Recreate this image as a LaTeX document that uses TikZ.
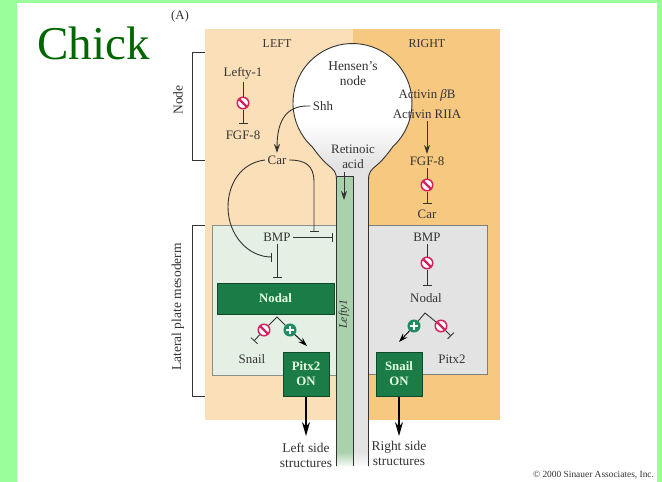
\documentclass[tikz,border=0pt]{standalone}
\usepackage{fontspec}
\setmainfont{Liberation Serif}
\definecolor{framegreen}{HTML}{99FF99}
\definecolor{chickgreen}{HTML}{006600}
\definecolor{leftor}{HTML}{FBDFB8}
\definecolor{rightor}{HTML}{F6C880}
\definecolor{leftbox}{HTML}{E4F0E4}
\definecolor{rightbox}{HTML}{E3E3E3}
\definecolor{stripgreen}{HTML}{A9D2AC}
\definecolor{boxgreen}{HTML}{1C7C48}
\definecolor{nored}{HTML}{D4225C}
\definecolor{plusgreen}{HTML}{1F8C62}
\definecolor{inkgray}{HTML}{333333}
\usetikzlibrary{arrows.meta, positioning}
\begin{document}
\begin{tikzpicture}[
      x=1pt, y=-1pt,
      lbl/.style={font=\fontsize{12.9}{15}\selectfont, text=inkgray, inner sep=2.5pt, align=center},
      onbox/.style={draw=boxgreen!60!black, line width=1pt, fill=boxgreen, font=\fontsize{12.8}{15}\selectfont\bfseries, text=white!90!green, align=center, inner sep=0pt},
      nosign/.style={circle, draw=nored, line width=1.5pt, fill=white, minimum size=11.5pt, inner sep=0pt,
        path picture={\draw[nored, line width=2.2pt] (path picture bounding box.north west) -- (path picture bounding box.south east);}},
      plussign/.style={circle, draw=plusgreen, line width=1pt, fill=plusgreen, minimum size=12pt, inner sep=0pt,
        path picture={\draw[white, line width=1.7pt] ([xshift=-3.8pt]path picture bounding box.center) -- ([xshift=3.8pt]path picture bounding box.center)
          ([yshift=-3.8pt]path picture bounding box.center) -- ([yshift=3.8pt]path picture bounding box.center);}},
      con/.style={inkgray, line width=0.9pt},
      tee/.style={con, -{Bar[width=9pt, line width=0.8pt]}},
      arr/.style={con, -{Stealth[length=9pt, width=6pt]}},
      bigarr/.style={black, line width=1.2pt, -{Stealth[length=14pt, width=8pt]}},
      brk/.style={inkgray, line width=0.8pt},
    ]
      \path[fill=framegreen] (0,0) rectangle (662,482);
      \path[fill=white] (17,3) rectangle (657,482);
      \node[font=\fontsize{47}{50}\selectfont, text=chickgreen, inner sep=0pt, anchor=base] (chick) at (93.5,59) {Chick};

      \path[fill=leftor] (205,29) rectangle (352.5,420);
      \path[fill=rightor] (352.5,29) rectangle (500,420);
      \draw[draw=leftbox!60!black, fill=leftbox, line width=0.8pt] (212,225) rectangle (337,375);
      \draw[draw=rightbox!55!black, fill=rightbox, line width=0.8pt] (368,225) rectangle (487,374.5);

      \def\nodeoutline{(336.5,466) -- (336.5,180) .. controls (336.5,172) and (334,170) .. (328,165)
        .. controls (322,160) and (316,152) .. (312.2,146.8)
        arc[start angle=132.6, end angle=407.4, radius=59.5]
        .. controls (389,152) and (383,160) .. (377,165)
        .. controls (371,170) and (368.5,172) .. (368.5,180) -- (368.5,466)}
      \begin{scope}
        \clip \nodeoutline -- cycle;
        \path[fill=rightbox] (290,40) rectangle (415,452);
        \path[fill=white] (290,40) rectangle (415,122);
        \shade[top color=white, bottom color=rightbox] (290,122) rectangle (415,165);
        \shade[top color=rightbox, bottom color=white] (353,452) rectangle (369,468);
        \path[fill=stripgreen] (337,176) rectangle (353,452);
        \shade[top color=stripgreen, bottom color=white] (337,452) rectangle (353,468);
      \end{scope}
      \draw[con] \nodeoutline;
      \draw[con] (337,176) -- (353,176) -- (353,466);

      \node[lbl] (panela) at (180,16) {(A)};
      \node[lbl, font=\fontsize{12}{15}\selectfont] (leftl) at (277,44) {LEFT};
      \node[lbl, font=\fontsize{12}{15}\selectfont] (rightl) at (427,44) {RIGHT};
      \node[lbl, rotate=90, font=\fontsize{13.5}{15}\selectfont] (nodel) at (178,100) {Node};
      \node[lbl, rotate=90, font=\fontsize{13.5}{15}\selectfont] (latl) at (178,307) {Lateral plate mesoderm};
      \node[lbl, rotate=90, font=\fontsize{11.6}{15}\selectfont\itshape] (lefty) at (344,314) {Lefty1};
      \coordinate (nta) at (205,52); \coordinate (ntb) at (192,52);
      \coordinate (ntc) at (192,160); \coordinate (ntd) at (205,160);
      \draw[brk] (nta) -- (ntb) -- (ntc) -- (ntd);
      \coordinate (lta) at (205,225); \coordinate (ltb) at (192,225);
      \coordinate (ltc) at (192,396); \coordinate (ltd) at (205,396);
      \draw[brk] (lta) -- (ltb) -- (ltc) -- (ltd);

      \node[lbl, font=\fontsize{13.5}{15}\selectfont] (hensen) at (353,73.5) {Hensen's\\node};
      \node[lbl] (shh) at (323,106) {Shh};
      \node[lbl] (retin) at (353,157) {Retinoic\\acid};
      \node[lbl] (lefty1) at (243,73) {Lefty-1};
      \node[nosign] (nol) at (243,103) {};
      \node[lbl] (fgfl) at (243,135) {FGF-8};
      \node[lbl] (carl) at (277,160) {Car};
      \node[lbl] (actb) at (427,95) {Activin {\itshape β}B};
      \node[lbl] (actr) at (427,114) {Activin RIIA};
      \node[lbl] (fgfr) at (427,161) {FGF-8};
      \node[nosign] (nor) at (427,185) {};
      \node[lbl] (carr) at (427,214) {Car};
      \node[lbl] (bmpl) at (277,237) {BMP};
      \node[lbl] (bmpr) at (427,237) {BMP};
      \node[nosign] (nob) at (427,263) {};
      \node[lbl] (nodalr) at (426,298) {Nodal};
      \node[onbox, minimum width=117pt, minimum height=31pt] (nodal) at (275.5,298.5) {Nodal};
      \node[onbox, minimum width=46pt, minimum height=44pt] (pitxon) at (306,374) {Pitx2\\ON};
      \node[onbox, minimum width=46pt, minimum height=44pt] (snailon) at (399,374) {Snail\\ON};
      \node[lbl] (snaill) at (252,359) {Snail};
      \node[lbl] (pitxr) at (452,359) {Pitx2};
      \node[lbl, font=\fontsize{13.4}{15}\selectfont] (lefts) at (306,455.5) {Left side\\structures};
      \node[lbl, font=\fontsize{13.4}{15}\selectfont] (rights) at (399,453.5) {Right side\\structures};
      \node[nosign] (nosl) at (264,330) {};
      \node[plussign] (plusl) at (290,330) {};
      \node[plussign] (plusr) at (414,326) {};
      \node[nosign] (nopr) at (441,326) {};
      \node[font=\fontsize{9.4}{11}\selectfont, text=inkgray, inner sep=0pt] (copyr) at (593.5,475) {© 2000 Sinauer Associates, Inc.};

      \coordinate (rata) at (344,172); \coordinate (ratb) at (344,200);
      \coordinate (tfgfl) at (243,124); \coordinate (tcarr) at (427,204);
      \coordinate (tnodr) at (427,286); \coordinate (bend) at (228,207);
      \coordinate (tbmpa) at (272,257); \coordinate (tbmpb) at (314,232);
      \coordinate (tbmpc) at (333,237); \coordinate (tnodl) at (277,278);
      \coordinate (peakl) at (277,317); \coordinate (peakr) at (425,313);
      \coordinate (tsnl) at (254,341); \coordinate (apit) at (307,346);
      \coordinate (asnr) at (399,342); \coordinate (tpir) at (451,336);
      \coordinate (alef) at (306,436); \coordinate (arig) at (399,436);

      \draw[con] (lefty1)--(nol); \draw[tee] (nol)--(tfgfl);
      \draw[arr] (shh.west) .. controls (288,105) and (277,118) .. (carl.north);
      \draw[arr] (actr)--(fgfr);
      \draw[con] (fgfr)--(nor); \draw[tee] (nor)--(tcarr);
      \draw[arr] (rata)--(ratb);
      \draw[con] (carl.west) .. controls (240,163) and (228,185) .. (bend);
      \draw[tee] (bend) .. controls (228,235) and (248,257) .. (tbmpa);
      \draw[tee] (carl.east) .. controls (305,160) and (314,165) .. (314,182) -- (tbmpb);
      \draw[tee] (bmpl)--(tbmpc);
      \draw[tee] (bmpl)--(tnodl);
      \draw[con] (bmpr)--(nob); \draw[tee] (nob)--(tnodr);
      \draw[con] (nosl)--(peakl)--(plusl);
      \draw[tee] (nosl)--(tsnl);
      \draw[arr, black] (plusl)--(apit);
      \draw[con] (plusr)--(peakr)--(nopr);
      \draw[arr, black] (plusr)--(asnr);
      \draw[tee] (nopr)--(tpir);
      \draw[bigarr] (pitxon)--(alef);
      \draw[bigarr] (snailon)--(arig);
    \end{tikzpicture}
\end{document}
